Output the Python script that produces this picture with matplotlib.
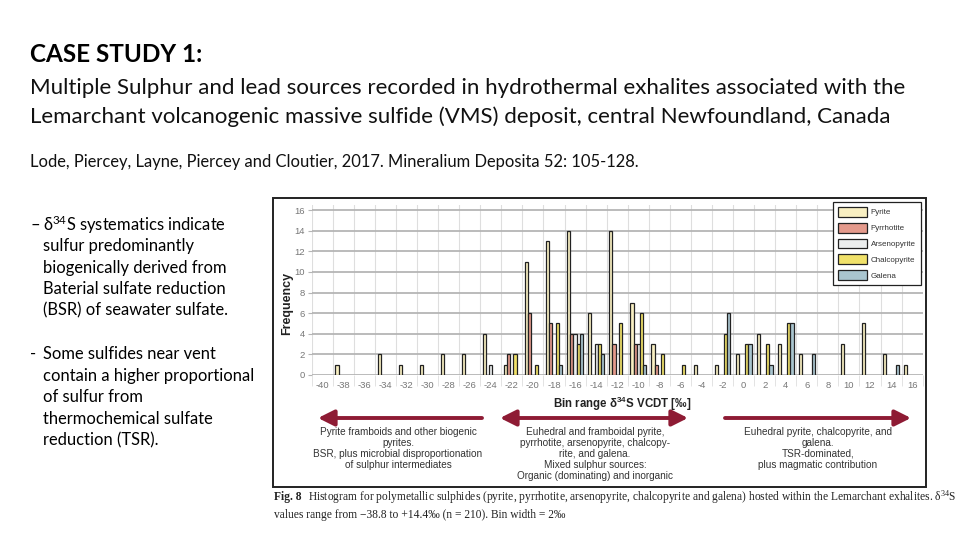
import numpy as np
import matplotlib.pyplot as plt
from matplotlib.patches import Rectangle, FancyArrowPatch

# bins of 2 permil, labelled by their lower value
bins = list(range(-40, 17, 2))

# counts per bin
pyrite = [0, 1, 0, 2, 1, 1, 2, 2, 4, 1, 11, 13, 14, 6, 14, 7, 3, 0, 1, 1, 2, 4, 3, 2, 0, 3, 5, 2, 1]
pyrrhotite = [0, 0, 0, 0, 0, 0, 0, 0, 0, 2, 6, 5, 4, 0, 3, 3, 1, 0, 0, 0, 0, 0, 0, 0, 0, 0, 0, 0, 0]
arsenopyrite = [0, 0, 0, 0, 0, 0, 0, 0, 1, 0, 0, 0, 4, 3, 0, 3, 0, 0, 0, 0, 0, 0, 0, 0, 0, 0, 0, 0, 0]
chalcopyrite = [0, 0, 0, 0, 0, 0, 0, 0, 0, 2, 1, 5, 3, 3, 5, 6, 2, 1, 0, 4, 3, 3, 5, 0, 0, 0, 0, 0, 0]
galena = [0, 0, 0, 0, 0, 0, 0, 0, 0, 0, 0, 1, 4, 2, 0, 1, 0, 0, 0, 6, 3, 1, 5, 2, 0, 0, 0, 1, 0]

series = ['Pyrite', 'Pyrrhotite', 'Arsenopyrite', 'Chalcopyrite', 'Galena']
colors = ['#f8efc2', '#e49a8c', '#eceeee', '#f0e16a', '#a9c5cf']

bullets1 = ['sulfur predominantly', 'biogenically derived from',
            'Baterial sulfate reduction', '(BSR) of seawater sulfate.']
bullets2 = ['contain a higher proportional', 'of sulfur from',
            'thermochemical sulfate', 'reduction (TSR).']

notes_left = ['Pyrite framboids and other biogenic', 'pyrites.',
              'BSR, plus microbial disproportionation', 'of sulphur intermediates']
notes_mid = ['Euhedral and framboidal pyrite,', 'pyrrhotite, arsenopyrite, chalcopy-',
             'rite, and galena.', 'Mixed sulphur sources:', 'Organic (dominating) and inorganic']
notes_right = ['Euhedral pyrite, chalcopyrite, and', 'galena.', 'TSR-dominated,',
               'plus magmatic contribution']

plt.rcParams['mathtext.default'] = 'regular'

W, H = 960, 540
fig = plt.figure(figsize=(9.6, 5.4), dpi=100)
fig.patch.set_facecolor('white')

def fx(x):
    return x / W

def fy(y):
    return 1 - y / H

slide_font = ['Lato', 'DejaVu Sans']
chart_font = ['Liberation Sans', 'DejaVu Sans']

# slide text
fig.text(fx(30), fy(55), 'CASE STUDY 1:', fontsize=17.5, fontweight='bold',
         family=slide_font, va='center', color='black')
fig.text(fx(30), fy(88), 'Multiple Sulphur and lead sources recorded in hydrothermal exhalites associated with the',
         fontsize=16, family=slide_font, va='center', color='#111111')
fig.text(fx(30), fy(117), 'Lemarchant volcanogenic massive sulfide (VMS) deposit, central Newfoundland, Canada',
         fontsize=16, family=slide_font, va='center', color='#111111')
fig.text(fx(30), fy(162), 'Lode, Piercey, Layne, Piercey and Cloutier, 2017. Mineralium Deposita 52: 105-128.',
         fontsize=11.9, family=slide_font, va='center', color='#111111')

bfs = 11.9
fig.text(fx(30), fy(225), '–', fontsize=bfs, family=slide_font, va='center')
fig.text(fx(43), fy(225), 'δ$^{34}$S systematics indicate', fontsize=bfs, family=slide_font, va='center')
for i, line in enumerate(bullets1):
    fig.text(fx(43), fy(246 + i * 21.5), line, fontsize=bfs, family=slide_font, va='center')
fig.text(fx(30), fy(354), '-', fontsize=bfs, family=slide_font, va='center')
fig.text(fx(43), fy(354), 'Some sulfides near vent', fontsize=bfs, family=slide_font, va='center')
for i, line in enumerate(bullets2):
    fig.text(fx(43), fy(376 + i * 21.5), line, fontsize=bfs, family=slide_font, va='center')

# frame of the figure image
fig.patches.append(Rectangle((fx(273), fy(487)), fx(926) - fx(273), fy(198) - fy(487),
                             transform=fig.transFigure, fill=False, edgecolor='#222222', linewidth=1.4))

# histogram axes
left, right, top, bottom = 311.7, 922.7, 205, 375
ax = fig.add_axes([fx(left), fy(bottom), fx(right) - fx(left), fy(top) - fy(bottom)])
x = np.arange(len(bins))
width = 0.15
data = [pyrite, pyrrhotite, arsenopyrite, chalcopyrite, galena]
for k, (name, vals, c) in enumerate(zip(series, data, colors)):
    v = np.array(vals, dtype=float)
    mask = v > 0
    ax.bar(x[mask] + (k - 2) * width, v[mask], width=width, color=c, edgecolor='#222222',
           linewidth=0.9, label=name, zorder=3)

ax.set_xlim(-0.5, len(bins) - 0.5)
ax.set_ylim(0, 16.5)
ax.set_yticks(range(0, 17, 2))
ax.set_xticks(x)
ax.set_xticklabels([str(b) for b in bins])
ax.set_xticks(np.arange(-0.5, len(bins), 1), minor=True)
for s in ax.spines.values():
    s.set_visible(False)
ax.grid(axis='y', which='major', color='#b5b5b5', linewidth=1.3, zorder=0)
ax.grid(axis='x', which='minor', color='#dedede', linewidth=0.8, zorder=0)
ax.tick_params(axis='x', which='major', length=0, labelsize=6.8, labelcolor='#777777', pad=4)
ax.tick_params(axis='x', which='minor', length=8, color='#dedede')
ax.tick_params(axis='y', length=3, color='#b5b5b5', labelsize=6.8, labelcolor='#777777', pad=2)
for lab in ax.get_xticklabels() + ax.get_yticklabels():
    lab.set_family(chart_font)
fig.text(fx(287), fy(303), 'Frequency', rotation=90, fontsize=9, fontweight='bold',
         family=chart_font, ha='center', va='center', color='#222222')

leg = ax.legend(loc='upper right', bbox_to_anchor=(fx(920.5), fy(202)), bbox_transform=fig.transFigure,
                frameon=True, fancybox=False, edgecolor='#222222', framealpha=1,
                handlelength=3.6, handleheight=1.5, labelspacing=0.75, borderpad=0.6,
                handletextpad=0.5, borderaxespad=0,
                prop={'family': chart_font, 'size': 5.8})
leg.get_frame().set_linewidth(0.9)
for t in leg.get_texts():
    t.set_color('#333333')

# axis title and interpretation arrows
fig.text(fx(622), fy(404), 'Bin range δ$^{34}$S VCDT [‰]', fontsize=8.3, fontweight='bold',
         family=chart_font, ha='center', va='center', color='#222222')

arrow_c = '#8e1b34'
for xs, xe, st in [(482, 318, '-|>,head_length=0.8,head_width=0.4'),
                   (500, 688, '<|-|>,head_length=0.8,head_width=0.4'),
                   (725, 911, '-|>,head_length=0.8,head_width=0.4')]:
    fig.add_artist(FancyArrowPatch(
        (fx(xs), fy(418)), (fx(xe), fy(418)), transform=fig.transFigure,
        arrowstyle=st, color=arrow_c, lw=2.8, mutation_scale=12, shrinkA=0, shrinkB=0))

ann = dict(fontsize=7.2, family=chart_font, ha='center', va='center', color='#333333')
for cx, lines in [(398, notes_left), (595, notes_mid), (818, notes_right)]:
    for i, line in enumerate(lines):
        fig.text(fx(cx), fy(432 + i * 11), line, **ann)

# caption
cap = dict(fontsize=8.3, family=['Liberation Serif', 'DejaVu Serif'], va='center', color='#222222')
fig.text(fx(274), fy(497), 'Fig. 8', fontweight='bold', **cap)
fig.text(fx(308), fy(497), 'Histogram for polymetallic sulphides (pyrite, pyrrhotite, arsenopyrite, chalcopyrite and galena) hosted within the Lemarchant exhalites. δ$^{34}$S',
         **cap)
fig.text(fx(274), fy(515), 'values range from −38.8 to +14.4‰ (n = 210). Bin width = 2‰', **cap)

fig.savefig('out.png', dpi=100)
